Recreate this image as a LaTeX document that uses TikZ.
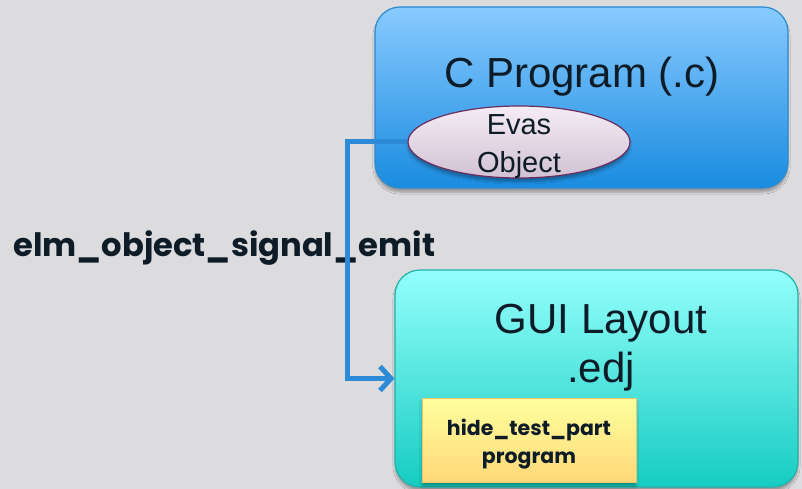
\documentclass[tikz,border=0pt]{standalone}
\usepackage{fontspec}
\setmainfont{Liberation Sans}
\newfontfamily\geofont{Poppins}
\usetikzlibrary{arrows.meta,shapes.geometric,shadows.blur}

\definecolor{bgcol}{HTML}{DCDCDE}
\definecolor{inkcol}{HTML}{0E1C28}
\definecolor{progtop}{HTML}{88CAFF}
\definecolor{progbot}{HTML}{1A8CE0}
\definecolor{progedge}{HTML}{2B8BD3}
\definecolor{guitop}{HTML}{94FFFC}
\definecolor{guibot}{HTML}{16CCC2}
\definecolor{guiedge}{HTML}{22B2AA}
\definecolor{evastop}{HTML}{F4ECF4}
\definecolor{evasbot}{HTML}{D2C2D4}
\definecolor{evasedge}{HTML}{6B2C5E}
\definecolor{parttop}{HTML}{FFFF9E}
\definecolor{partbot}{HTML}{FFD878}
\definecolor{partedge}{HTML}{F0C468}
\definecolor{wirecol}{HTML}{2C8AD6}

\tikzset{
  softshadow/.style={blur shadow={shadow xshift=0pt, shadow yshift=-4pt,
      shadow blur steps=6, shadow opacity=30}},
  bigbox/.style={draw, line width=1.2pt, rounded corners=25pt, softshadow},
  progbox/.style={bigbox, draw=progedge, top color=progtop, bottom color=progbot,
      minimum width=413pt, minimum height=181pt},
  guibox/.style={bigbox, draw=guiedge, top color=guitop, bottom color=guibot,
      minimum width=403pt, minimum height=217pt},
  evasobj/.style={ellipse, draw=evasedge, line width=1.2pt, top color=evastop,
      bottom color=evasbot, minimum width=222pt, minimum height=72pt, inner sep=0pt,
      softshadow},
  partbox/.style={draw=partedge, line width=1pt, top color=parttop, bottom color=partbot,
      minimum width=214pt, minimum height=84pt, inner sep=0pt, softshadow},
  bigtext/.style={anchor=base, text=inkcol, font=\fontsize{42}{49}\selectfont, inner sep=0pt},
  midtext/.style={anchor=base, text=inkcol, font=\fontsize{29}{36}\selectfont, inner sep=0pt},
  parttext/.style={anchor=base, text=inkcol, font=\geofont\bfseries\fontsize{20.5}{28}\selectfont, inner sep=0pt},
  sigtext/.style={anchor=base west, text=inkcol, font=\geofont\bfseries\fontsize{32.2}{38}\selectfont, inner sep=0pt},
  wire/.style={draw=wirecol, line width=5pt, line join=miter,
      -{Straight Barb[length=11pt,width=24pt]}}
}

\begin{document}
\begin{tikzpicture}[x=1pt,y=-1pt]
  \fill[bgcol] (0,0) rectangle (802,489);
  \useasboundingbox (0,0) rectangle (802,489);

  % C program block with its Evas object
  \node[progbox] (prog) at (581.5,97.5) {};
  \node[bigtext] (progtxt) at (582,88) {C Program (.c)};
  \node[evasobj] (evas) at (519,142) {};
  \node[midtext] (evas1) at (519,135) {Evas};
  \node[midtext] (evas2) at (519,172) {Object};

  % GUI layout block with its part program
  \node[guibox] (gui) at (596.5,378.5) {};
  \node[bigtext] (guitxt1) at (601,333) {GUI Layout};
  \node[bigtext] (guitxt2) at (601,382) {.edj};
  \node[partbox] (part) at (529,440) {};
  \node[parttext] (part1) at (529,435) {hide\_test\_part};
  \node[parttext] (part2) at (529,463) {program};

  % signal label
  \node[sigtext] (sig) at (13,256) {elm\_object\_signal\_emit};

  % signal path from the object to the layout
  \coordinate (bendtop) at (347,142);
  \coordinate (bendbot) at (347,378.5);
  \draw[wire] (evas.west) -- (bendtop) -- (bendbot) -- (gui.west);
\end{tikzpicture}
\end{document}
